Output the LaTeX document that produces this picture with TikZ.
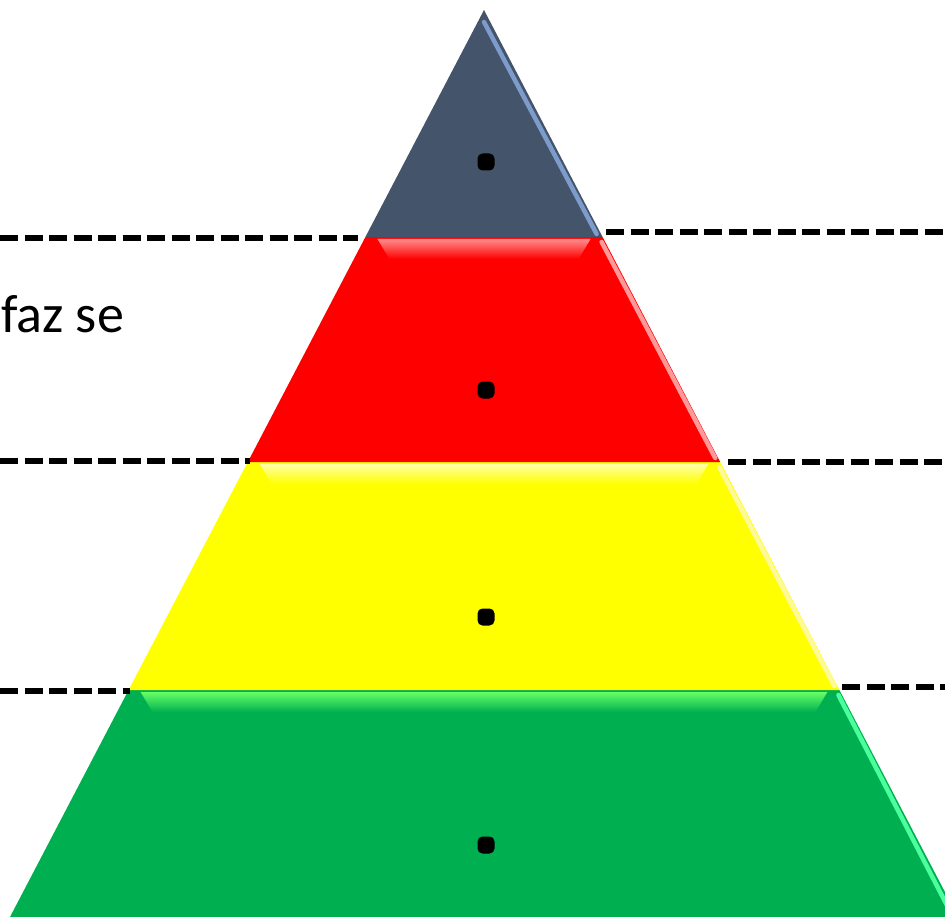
\documentclass[tikz,border=0pt]{standalone}
\usepackage{fontspec}
\setmainfont{Carlito}
\usetikzlibrary{calc}
\definecolor{slate}{HTML}{44546A}
\definecolor{slatelight}{HTML}{7E9CCB}
\definecolor{pyred}{HTML}{FF0000}
\definecolor{pyyellow}{HTML}{FFFF00}
\definecolor{pygreen}{HTML}{00B050}
\tikzset{
  sepline/.style={line width=5.5pt, dash pattern=on 18pt off 6.5pt, black},
  layer/.style={draw=none},
  dotmark/.style={fill=black, rounded corners=5pt},
  rimlight/.style={line width=4.5pt, line cap=round},
}
\begin{document}
\begin{tikzpicture}[x=1pt,y=-1pt]
\useasboundingbox (0,0) rectangle (945,917);
% pyramid corner coordinates (slope 0.5226 px per px)
\coordinate (apex) at (484,10);
\coordinate (l1) at (365.4,237); \coordinate (r1) at (602.6,237);
\coordinate (l2) at (247.8,462); \coordinate (r2) at (720.2,462);
\coordinate (l3) at (128.6,690); \coordinate (r3) at (839.4,690);
\coordinate (l4) at (10,917);    \coordinate (r4) at (958,917);
% layers
\fill[layer, pygreen] (l3) -- (r3) -- (r4) -- (l4) -- cycle;
\fill[layer, pyyellow] (l2) -- (r2) -- (r3) -- (l3) -- cycle;
\fill[layer, pyred] (l1) -- (r1) -- (r2) -- (l2) -- cycle;
\fill[layer, slate] (apex) -- (r1) -- (l1) -- cycle;
% bevel highlights
\begin{scope}
\clip ($(l1)+(12,2)$) -- ($(r1)+(-12,2)$) -- ($(r1)+(-24,22)$) -- ($(l1)+(24,22)$) -- cycle;
\shade[top color=red!45!white, bottom color=pyred] (0,239) rectangle (945,259);
\end{scope}
\begin{scope}
\clip ($(l2)+(12,2)$) -- ($(r2)+(-12,2)$) -- ($(r2)+(-24,22)$) -- ($(l2)+(24,22)$) -- cycle;
\shade[top color=yellow!35!white, bottom color=pyyellow] (0,464) rectangle (945,484);
\end{scope}
\begin{scope}
\clip ($(l3)+(12,2)$) -- ($(r3)+(-12,2)$) -- ($(r3)+(-24,22)$) -- ($(l3)+(24,22)$) -- cycle;
\shade[top color=green!60!white, bottom color=pygreen] (0,692) rectangle (945,712);
\end{scope}
\draw[rimlight, slatelight] ($(apex)+(0,12)$) -- ($(r1)+(-6,-3)$);
\draw[rimlight, red!40!white] ($(r1)+(-1,5)$) -- ($(r2)+(-5,-4)$);
\draw[rimlight, yellow!40!white] ($(r2)+(-1,5)$) -- ($(r3)+(-5,-4)$);
\draw[rimlight, green!55!cyan!70!white] ($(r3)+(-1,5)$) -- ($(r4)+(-5,0)$);
% dots
\foreach \n/\y in {d1/162, d2/390, d3/617, d4/845}{
  \node[dotmark, minimum size=17pt, inner sep=0pt] (\n) at (486,\y) {};
}
% dashed separators
\coordinate (a1) at (0,238);   \coordinate (b1) at (358,238);
\coordinate (c1) at (606,232); \coordinate (e1) at (945,232);
\coordinate (a2) at (0,461);   \coordinate (b2) at (250,461);
\coordinate (c2) at (728,462); \coordinate (e2) at (945,462);
\coordinate (a3) at (0,691);   \coordinate (b3) at (130,691);
\coordinate (c3) at (842,687); \coordinate (e3) at (945,687);
\draw[sepline] (a1) -- (b1);
\draw[sepline] (c1) -- (e1);
\draw[sepline] (a2) -- (b2);
\draw[sepline] (c2) -- (e2);
\draw[sepline] (a3) -- (b3);
\draw[sepline] (c3) -- (e3);
% text
\node[anchor=base west, inner sep=0pt, font=\fontsize{54}{62}\selectfont] (t1) at (1,332) {faz se};
\end{tikzpicture}
\end{document}
